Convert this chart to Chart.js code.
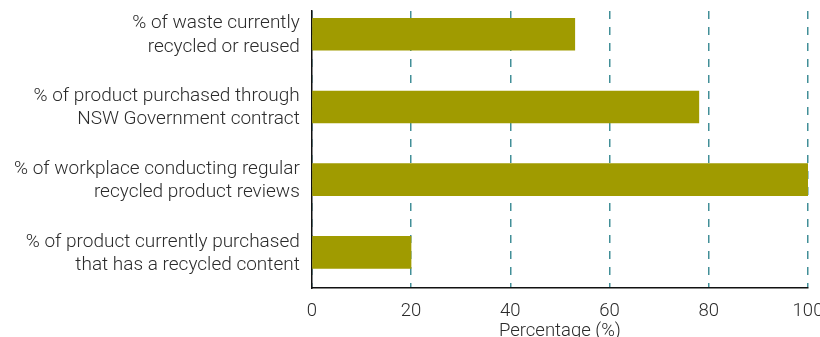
<!DOCTYPE html>
<html>
<head>
<meta charset="utf-8">
<script src="https://cdn.jsdelivr.net/npm/chart.js@4"></script>
<style>
  html, body { margin: 0; padding: 0; background: #fff; }
  #wrap { width: 820px; height: 337px; }
</style>
</head>
<body>
<div id="wrap"><canvas id="myChart" width="820" height="337"></canvas></div>
<script>
// categories, each split onto two lines
const categories = [
  ['% of waste currently', 'recycled or reused'],
  ['% of product purchased through', 'NSW Government contract'],
  ['% of workplace conducting regular', 'recycled product reviews'],
  ['% of product currently purchased', 'that has a recycled content']
];
const values = [53, 78, 100, 20];
const xTicks = [0, 20, 40, 60, 80, 100];

const barColor = '#a09b00';
const gridColor = '#428f98';
const textColor = '#2b2b2b';
const labelFont = { family: 'Roboto', size: 19, weight: '300', lineHeight: 1.22 };
const axisFont = { family: 'Roboto', size: 18.5, weight: '300' };

const ctx = document.getElementById('myChart').getContext('2d');
const myChart = new Chart(ctx, {
  type: 'bar',
  data: {
    datasets: [{
      label: 'Percentage',
      data: values.map((v, i) => ({ x: v, y: i })),
      backgroundColor: barColor,
      borderWidth: 0,
      barThickness: 32
    }]
  },
  options: {
    indexAxis: 'y',
    responsive: false,
    animation: false,
    layout: { padding: { top: 11, right: 0, left: 2, bottom: 0 } },
    scales: {
      x: {
        type: 'linear',
        min: 0,
        max: 100,
        afterBuildTicks: axis => { axis.ticks = xTicks.map(v => ({ value: v })); },
        afterFit: axis => { axis.height = 49; axis.paddingRight = 12; },
        grid: {
          color: gridColor,
          lineWidth: 1.5,
          drawTicks: false
        },
        border: { display: true, color: '#111', width: 1.5, dash: [8, 8] },
        ticks: { color: textColor, font: axisFont, padding: 12 },
        title: {
          display: true,
          text: 'Percentage (%)',
          color: textColor,
          font: axisFont,
          padding: { top: 0, bottom: -5 }
        }
      },
      y: {
        type: 'linear',
        reverse: true,
        offset: false,
        min: -0.32,
        max: 3.49,
        afterBuildTicks: axis => { axis.ticks = categories.map((c, i) => ({ value: i })); },
        afterFit: axis => { axis.paddingTop = 0; axis.paddingBottom = 0; },
        grid: { display: false, drawTicks: false },
        border: { display: true, color: '#111', width: 1.5 },
        ticks: {
          color: textColor,
          font: labelFont,
          padding: 12,
          labelOffset: 1,
          callback: v => categories[v]
        }
      }
    },
    plugins: {
      legend: { display: false },
      tooltip: { enabled: false }
    }
  }
});
</script>
</body>
</html>
